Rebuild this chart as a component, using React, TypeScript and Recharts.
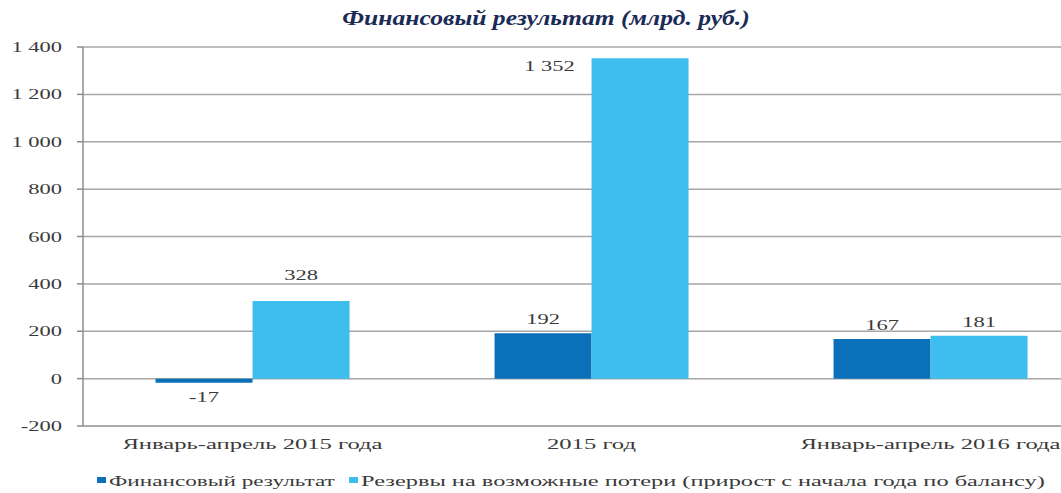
import React from "react";
import { BarChart, Bar, XAxis, YAxis, CartesianGrid, LabelList } from "recharts";

const categories = ["Январь-апрель 2015 года", "2015 год", "Январь-апрель 2016 года"];
const financialResult = [-17, 192, 167];
const reserves = [328, 1352, 181];
const yTicks = [-200, 0, 200, 400, 600, 800, 1000, 1200, 1400];
const seriesNames = ["Финансовый результат", "Резервы на возможные потери (прирост с начала года по балансу)"];
const title = "Финансовый результат (млрд. руб.)";

const COLORS = ["#0A70B9", "#3DBEEE"];
const FONT = "Liberation Serif, Times New Roman, serif";
const SX = 1.5;

const data = categories.map((c, i) => ({ name: c, fin: financialResult[i], res: reserves[i] }));

const PLOT_TOP = 47;
const PLOT_BOTTOM = 426;
const DOMAIN: [number, number] = [-200, 1400];
const toPx = (v: number) => PLOT_BOTTOM - ((v - DOMAIN[0]) / (DOMAIN[1] - DOMAIN[0])) * (PLOT_BOTTOM - PLOT_TOP);

const fmt = (v: number) => {
  const s = Math.abs(v).toString().replace(/\B(?=(\d{3})+(?!\d))/g, " ");
  return (v < 0 ? "-" : "") + s;
};

const SText = ({ x, y, anchor, children, size = 15, fill = "#3a3a3a", sx = SX, weight, style }: any) => (
  <g transform={`translate(${x},${y}) scale(${sx},1)`}>
    <text
      x={0}
      y={0}
      textAnchor={anchor}
      fontFamily={FONT}
      style={{ fontFamily: FONT }}
      fontSize={size}
      fill={fill}
      fontWeight={weight}
      fontStyle={style}
    >
      {children}
    </text>
  </g>
);

const YTick = ({ x, y, payload }: any) => (
  <SText x={x} y={y + 5} anchor="end">{fmt(payload.value)}</SText>
);

const XTick = ({ x, y, payload }: any) => (
  <SText x={x} y={y + 15} anchor="middle" size={14} sx={1.76}>{payload.value}</SText>
);

const renderLabel = (props: any) => {
  const { x, y, width, height, value } = props;
  const top = Math.min(y, y + height);
  const bottom = Math.max(y, y + height);
  const cx = x + width / 2;
  if (value < 0) {
    return <SText x={cx} y={bottom + 19} anchor="middle">{fmt(value)}</SText>;
  }
  if (top - 20 < PLOT_TOP) {
    return <SText x={x - 42} y={top + 13} anchor="middle">{fmt(value)}</SText>;
  }
  let base = top - 9;
  for (const t of yTicks) {
    const gy = toPx(t);
    if (base > gy && base - 11 < gy) base = gy - 4;
  }
  return <SText x={cx} y={base} anchor="middle">{fmt(value)}</SText>;
};

export default function App() {
  return (
    <div style={{ position: "fixed", left: 0, top: 0, width: 1061, height: 493, overflow: "hidden", background: "#fff" }}>
      <BarChart
        width={1120}
        height={493}
        data={data}
        margin={{ top: PLOT_TOP, right: 20, bottom: 37, left: 0 }}
        barCategoryGap="21.4%"
        barGap={0}
      >
        <CartesianGrid vertical={false} stroke="#a6a6a6" strokeWidth={1.5} />
        <XAxis
          dataKey="name"
          height={30}
          tickLine={false}
          axisLine={{ stroke: "#a6a6a6", strokeWidth: 1.5 }}
          tick={<XTick />}
          interval={0}
        />
        <YAxis
          width={83}
          domain={DOMAIN}
          ticks={yTicks}
          tickSize={6}
          tickMargin={15}
          tickLine={{ stroke: "#8c8c8c", strokeWidth: 1.5 }}
          axisLine={{ stroke: "#8c8c8c", strokeWidth: 1.5 }}
          tick={<YTick />}
          interval={0}
        />
        <Bar dataKey="fin" name={seriesNames[0]} fill={COLORS[0]} isAnimationActive={false}>
          <LabelList dataKey="fin" content={renderLabel} />
        </Bar>
        <Bar dataKey="res" name={seriesNames[1]} fill={COLORS[1]} isAnimationActive={false}>
          <LabelList dataKey="res" content={renderLabel} />
        </Bar>
      </BarChart>
      <svg width={1061} height={493} style={{ position: "absolute", left: 0, top: 0, pointerEvents: "none" }}>
        <SText x={546} y={25} anchor="middle" size={21} fill="#1B2B57" sx={1.22} weight="bold" style="italic">{title}</SText>
        <rect x={97} y={477} width={9} height={6} fill={COLORS[0]} />
        <SText x={109} y={486} anchor="start" size={14} sx={1.66}>{seriesNames[0]}</SText>
        <rect x={349} y={477} width={9} height={6} fill={COLORS[1]} />
        <SText x={361} y={486} anchor="start" size={14} sx={1.74}>{seriesNames[1]}</SText>
      </svg>
    </div>
  );
}
